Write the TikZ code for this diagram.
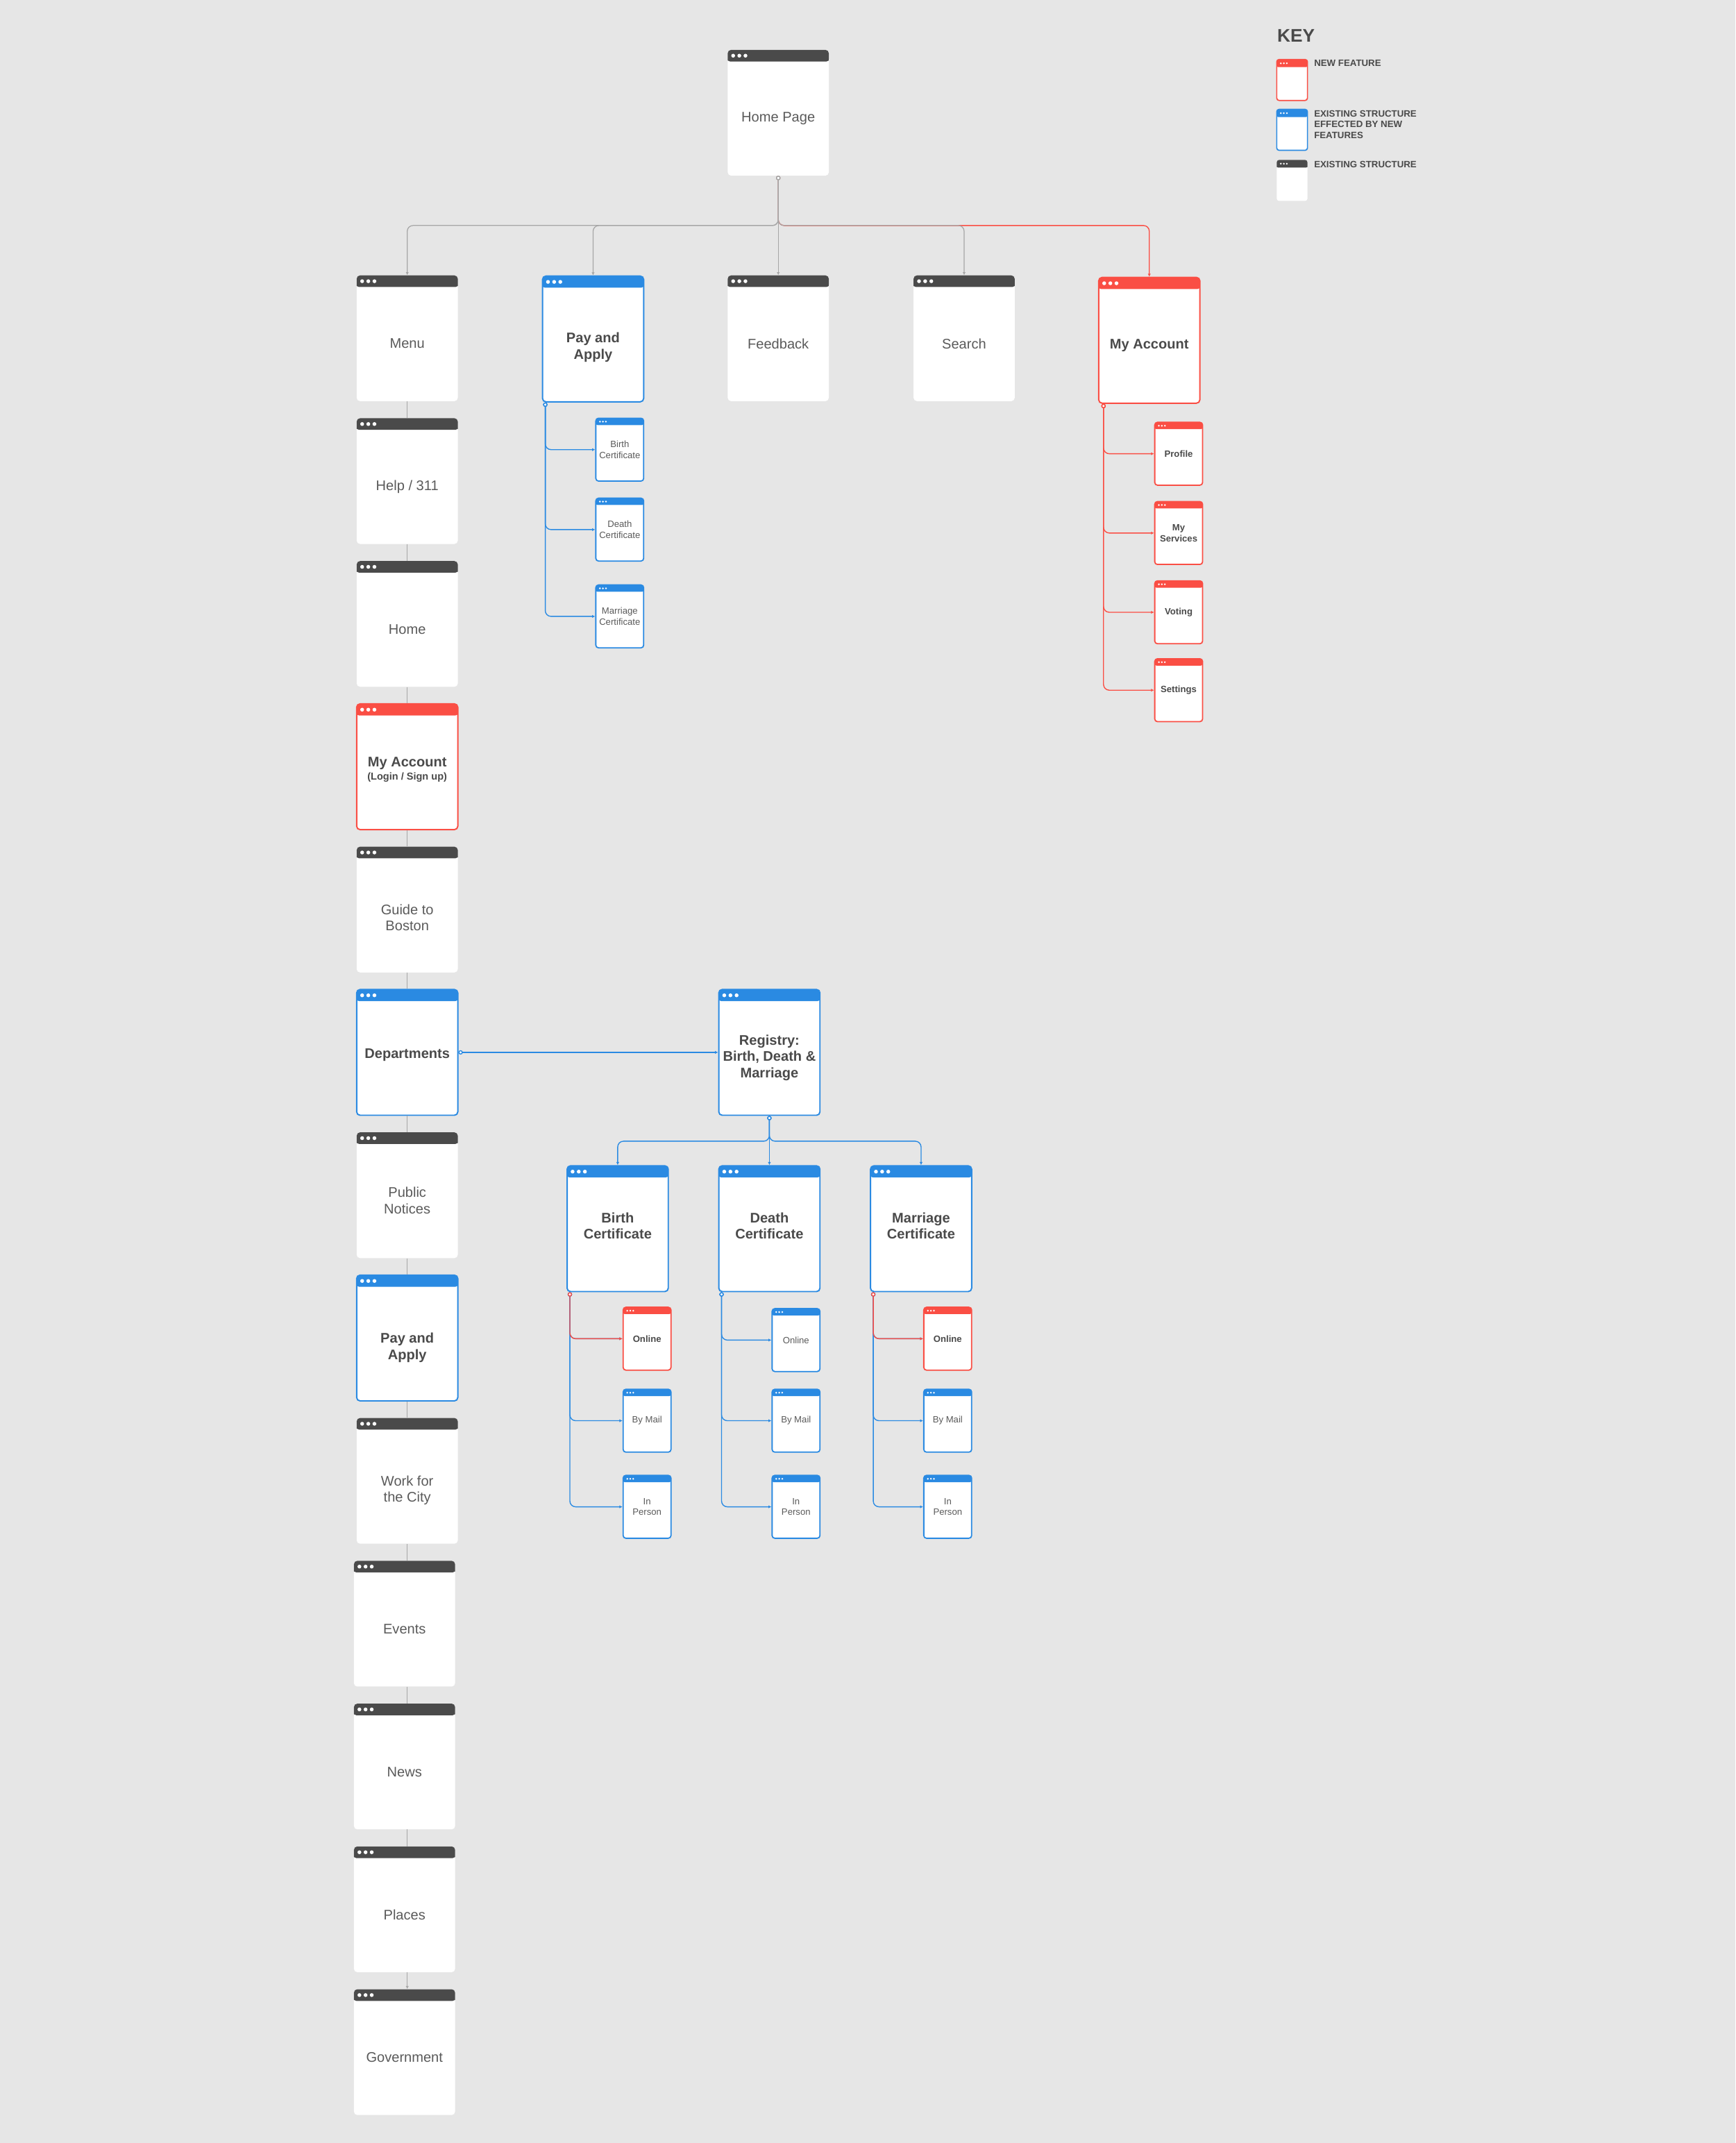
\documentclass[tikz,border=0pt]{standalone}
\usepackage{fontspec}
\setmainfont{Liberation Sans}
\usetikzlibrary{arrows.meta,calc}

\definecolor{bgpage}{HTML}{E6E6E6}
\definecolor{hdrgray}{HTML}{4A4A4A}
\definecolor{nred}{HTML}{FA4E44}
\definecolor{nblue}{HTML}{2A8AE2}
\definecolor{lgray}{HTML}{A6A6A6}
\definecolor{ink}{HTML}{4A4A4A}
\definecolor{inklight}{HTML}{5A5A5A}

\newcommand{\bigfont}{\fontsize{14.5}{17}\selectfont}
\newcommand{\smallfont}{\fontsize{9.5}{11.4}\selectfont}
\newcommand{\keyfont}{\fontsize{9.6}{11.4}\selectfont\bfseries}

\tikzset{
  % header bar and three dots: colour, bar height, first dot, dot step, dot radius
  win/.style n args={5}{path picture={
      \fill[#1] ([xshift=-1pt,yshift=1pt]path picture bounding box.north west)
        rectangle ([xshift=1pt,yshift=-#2]path picture bounding box.north east);
      \foreach \k in {0,1,2}
        \fill[white] ([xshift=#3+\k*#4,yshift=-#2/2]path picture bounding box.north west) circle[radius=#5];
  }},
  bigbox/.style={rectangle, rounded corners=3.5pt, minimum width=3.7cm, minimum height=4.6cm, inner sep=0pt, fill=white},
  bigtxt/.style={align=center, font=\bigfont, text=inklight},
  gbigat/.style 2 args={bigbox, win={hdrgray}{0.425cm}{0.2cm}{0.225cm}{0.07cm},
    label={[bigtxt, yshift=#2]center:{#1}}},
  bbigat/.style 2 args={bigbox, draw=nblue, line width=1.4pt, win={nblue}{0.425cm}{0.2cm}{0.225cm}{0.07cm},
    label={[bigtxt, font=\bigfont\bfseries, text=ink, yshift=#2]center:{#1}}},
  rbigat/.style 2 args={bigbox, draw=nred, line width=1.4pt, win={nred}{0.425cm}{0.2cm}{0.225cm}{0.07cm},
    label={[bigtxt, font=\bigfont\bfseries, text=ink, yshift=#2]center:{#1}}},
  gbig/.style={gbigat={#1}{-0.2cm}},
  bbig/.style={bbigat={#1}{-0.2cm}},
  rbig/.style={rbigat={#1}{-0.2cm}},
  smallbox/.style={rectangle, rounded corners=2.8pt, minimum width=1.75cm, minimum height=2.3cm, inner sep=0pt, fill=white, align=center, font=\smallfont},
  bsmall/.style={smallbox, draw=nblue, line width=1.3pt, win={nblue}{0.25cm}{0.15cm}{0.11cm}{0.035cm}, text=inklight},
  rsmall/.style={smallbox, draw=nred, line width=1.3pt, win={nred}{0.25cm}{0.15cm}{0.11cm}{0.035cm}, text=ink, font=\smallfont\bfseries},
  keybox/.style={rectangle, rounded corners=2.5pt, minimum width=1.125cm, minimum height=1.5cm, inner sep=0pt, fill=white},
  keytxt/.style={font=\keyfont, text=ink, inner sep=0pt, align=left},
  gline/.style={draw=lgray, line width=0.9pt, rounded corners=6pt},
  bline/.style={draw=nblue, line width=1pt, rounded corners=6pt},
  rline/.style={draw=nred, line width=1pt, rounded corners=6pt},
  tip/.style={arrows={-{Latex[length=3.2pt,width=3.2pt]}}},
  stub/.style={arrows={{Circle[length=4.5pt,fill=white]}-{Latex[length=3.2pt,width=3.2pt]}}},
}

\begin{document}
\begin{tikzpicture}[x=0.05cm, y=-0.05cm]
\fill[bgpage] (0,0) rectangle (1270,1568);
\useasboundingbox (0,0) rectangle (1270,1568);

% top level
\node[gbigat={Home Page}{-0.22cm}] (home) at (569.5,82.5) {};
\node[gbig={Menu}] (menu) at (298,247.5) {};
\node[bbigat={Pay and\\Apply}{-0.3cm}] (paytop) at (434,248) {};
\node[gbig={Feedback}] (feedback) at (569.5,247.5) {};
\node[gbig={Search}] (search) at (705.5,247.5) {};
\node[rbig={My Account}] (myacc) at (841,249) {};

\coordinate (tbus) at (569.5,165);
\draw[rline, stub] (home.south) |- (tbus -| myacc.north) -- (myacc.north);
\foreach \t in {menu, paytop, search}
  \draw[gline, stub] (home.south) |- (tbus -| \t.north) -- (\t.north);
\draw[gline, stub] (home.south) -- (feedback.north);

% pay and apply pages
\node[bsmall] (pbc) at (453.5,329) {Birth\\Certificate};
\node[bsmall] (pdc) at (453.5,387.5) {Death\\Certificate};
\node[bsmall] (pmc) at (453.5,451) {Marriage\\Certificate};
\foreach \t in {pbc, pdc, pmc}
  \draw[bline, stub] ($(paytop.south west)+(2.5,0)$) |- (\t.west);

% my account pages
\node[rsmall] (prof) at (862.5,332) {Profile};
\node[rsmall] (mysrv) at (862.5,390) {My\\Services};
\node[rsmall] (voting) at (862.5,448) {Voting};
\node[rsmall] (settings) at (862.5,505) {Settings};
\foreach \t in {prof, mysrv, voting, settings}
  \draw[rline, stub] ($(myacc.south west)+(4,0)$) |- (\t.west);

% menu column
\node[gbig={Help / 311}] (help) at (298,352) {};
\node[gbig={Home}] (homel) at (298,456.5) {};
\node[rbigat={My Account\\[-3pt]{\fontsize{10.5}{12}\selectfont(Login / Sign up)}}{-0.1cm}] (login) at (298,561) {};
\node[gbigat={Guide to\\Boston}{-0.3cm}] (guide) at (298,665.5) {};
\node[bbigat={Departments}{-0.1cm}] (dept) at (298,770) {};
\node[gbig={Public\\Notices}] (notices) at (298,874.5) {};
\node[bbigat={Pay and\\Apply}{-0.35cm}] (payl) at (298,979) {};
\node[gbigat={Work for\\the City}{-0.35cm}] (work) at (298,1083.5) {};
\node[gbig={Events}] (events) at (296,1188) {};
\node[gbig={News}] (news) at (296,1292.5) {};
\node[gbig={Places}] (places) at (296,1397) {};
\node[gbig={Government}] (govt) at (296,1501.5) {};

\foreach \a/\b in {menu/help, help/homel, homel/login, login/guide, guide/dept, dept/notices,
                   notices/payl, payl/work, work/events, events/news, news/places}
  \draw[gline] (\a.south -| menu.south) -- (\b.north -| menu.south);
\draw[gline, tip] (places.south -| menu.south) -- (govt.north -| menu.south);

% registry
\node[bbig={Registry:\\Birth, Death \&\\Marriage}] (reg) at (563,770) {};
\draw[bline, stub] (dept.east) -- (reg.west);

\node[bbigat={Birth\\Certificate}{0.1cm}] (bc) at (452,899) {};
\node[bbigat={Death\\Certificate}{0.1cm}] (dc) at (563,899) {};
\node[bbigat={Marriage\\Certificate}{0.1cm}] (mc) at (674,899) {};

\coordinate (rbus) at (563,835);
\foreach \t in {bc, mc}
  \draw[bline, stub] (reg.south) |- (rbus -| \t.north) -- (\t.north);
\draw[bline, stub] (reg.south) -- (dc.north);

% ways to order
\node[rsmall] (bc-online) at (473.5,979.5) {Online};
\node[bsmall] (dc-online) at (582.5,980.5) {Online};
\node[rsmall] (mc-online) at (693.5,979.5) {Online};
\foreach \c/\x in {bc/473.5, dc/582.5, mc/693.5} {
  \node[bsmall] (\c-mail) at (\x,1039.5) {By Mail};
  \node[bsmall] (\c-person) at (\x,1102.5) {In\\Person};
}
\foreach \c in {bc, dc, mc}
  \foreach \k in {online, mail, person}
    \draw[bline, stub] ($(\c.south west)+(2.5,0)$) |- (\c-\k.west);
\foreach \c in {bc, mc}
  \draw[rline, stub] ($(\c.south west)+(2.5,0)$) |- (\c-online.west);

% key
\node[anchor=west, inner sep=0pt, text=ink, font=\fontsize{19}{22}\selectfont\bfseries] (keyttl) at (934.5,26) {KEY};
\node[keybox, draw=nred, line width=1.2pt, win={nred}{0.28cm}{0.15cm}{0.11cm}{0.035cm}] (knew) at (945.5,58.5) {};
\node[keybox, draw=nblue, line width=1.2pt, win={nblue}{0.28cm}{0.15cm}{0.11cm}{0.035cm}] (kmod) at (945.5,95) {};
\node[keybox, win={hdrgray}{0.28cm}{0.15cm}{0.11cm}{0.035cm}] (kold) at (945.5,132) {};
\node[keytxt, anchor=west] (knewtxt) at (961.5,46) {NEW FEATURE};
\node[keytxt, anchor=north west] (kmodtxt) at (961.5,80.5) {EXISTING STRUCTURE\\EFFECTED BY NEW\\FEATURES};
\node[keytxt, anchor=west] (koldtxt) at (961.5,120.5) {EXISTING STRUCTURE};

\end{tikzpicture}
\end{document}
